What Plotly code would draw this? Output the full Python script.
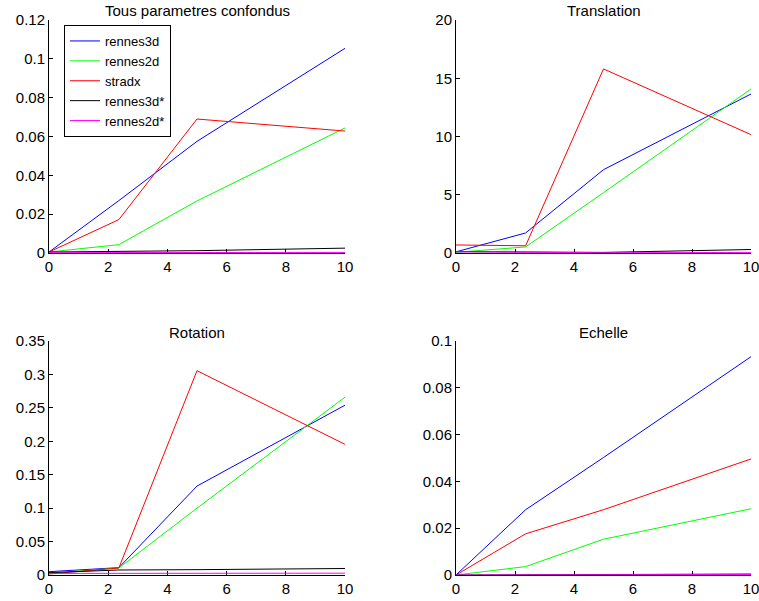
import plotly.graph_objects as go

x = [0, 2.36, 5, 10]
series_names = ["rennes3d", "rennes2d", "stradx", "rennes3d*", "rennes2d*"]
colors = ["#0000ff", "#00ff00", "#ff0000", "#000000", "#ff00ff"]

titles = ["Tous parametres confondus", "Translation", "Rotation", "Echelle"]

all_params = [
    [0.0005, 0.027, 0.0575, 0.1054],
    [0.0005, 0.0043, 0.0268, 0.0644],
    [0.0005, 0.0172, 0.069, 0.0628],
    [0.0005, 0.0008, 0.0012, 0.0025],
    [0.0002, 0.0002, 0.0002, 0.0003],
]
translation = [
    [0.1, 1.72, 7.15, 13.65],
    [0.06, 0.52, 5.18, 14.08],
    [0.69, 0.62, 15.8, 10.16],
    [0.12, 0.06, 0.05, 0.3],
    [0.1, 0.05, 0.02, 0.05],
]
rotation = [
    [0.005, 0.011, 0.133, 0.254],
    [0.0025, 0.0105, 0.1, 0.266],
    [0.0015, 0.0105, 0.3056, 0.1954],
    [0.0035, 0.0075, 0.008, 0.0097],
    [0.0024, 0.0026, 0.0025, 0.0027],
]
echelle = [
    [0.0, 0.0279, 0.0502, 0.0933],
    [0.0, 0.0036, 0.0153, 0.0283],
    [0.0, 0.0176, 0.0279, 0.0496],
    [0.0, 0.0001, 0.0001, 0.0004],
    [0.0, 0.00005, 0.0001, 0.0002],
]
panels = [all_params, translation, rotation, echelle]
y_ranges = [[0, 0.12], [0, 20], [0, 0.35], [0, 0.1]]
y_dticks = [0.02, 5, 0.05, 0.02]

# figure is a bit wider than the 759px window so the last "10" tick label is
# drawn and then cut by the window edge, as in the reference
W, H = 775, 601
# pixel domains of each axes box (left, right, top, bottom)
boxes = [(49, 345, 20, 253), (456, 751, 20, 253), (49, 345, 341, 575), (456, 751, 341, 575)]

fig = go.Figure()
font = "Liberation Sans, Arial, Helvetica, sans-serif"
layout = dict(
    width=W, height=H, margin=dict(l=0, r=0, t=0, b=0, pad=0, autoexpand=False),
    paper_bgcolor="white", plot_bgcolor="white",
    font=dict(family=font, size=15, color="black"),
    showlegend=True,
    legend=dict(x=64 / W, y=1 - 25 / H, xanchor="left", yanchor="top",
                bgcolor="white", bordercolor="black", borderwidth=1,
                font=dict(size=13), tracegroupgap=0,
                entrywidth=80, entrywidthmode="pixels"),
    annotations=[],
)

for i, (data, title) in enumerate(zip(panels, titles)):
    n = "" if i == 0 else str(i + 1)
    l, r, t, b = boxes[i]
    axis_common = dict(showline=True, linecolor="black", linewidth=1, mirror=False,
                       ticks="inside", ticklen=4, tickcolor="black", showgrid=False,
                       zeroline=False, automargin=False, layer="below traces",
                       tickfont=dict(size=15, color="black"))
    layout["xaxis" + n] = dict(domain=[l / W, r / W], range=[0, 10], dtick=2, tick0=0,
                               anchor="y" + n, **axis_common)
    layout["yaxis" + n] = dict(domain=[1 - b / H, 1 - t / H], range=y_ranges[i],
                               dtick=y_dticks[i], tick0=0, anchor="x" + n, **axis_common)
    layout["annotations"].append(dict(text=title, xref="paper", yref="paper",
                                      x=(l + r) / 2 / W, y=1 - (t - 9) / H,
                                      xanchor="center", yanchor="middle",
                                      showarrow=False, font=dict(size=15)))
    for name, color, ys in zip(series_names, colors, data):
        fig.add_trace(go.Scatter(x=x, y=ys, mode="lines", name=name,
                                 line=dict(color=color, width=1),
                                 xaxis="x" + n, yaxis="y" + n,
                                 showlegend=(i == 0)))

fig.update_layout(**layout)
fig.write_html("out.html", config={"displayModeBar": False},
               post_script="document.body.style.margin='0';document.body.style.overflow='hidden';")
